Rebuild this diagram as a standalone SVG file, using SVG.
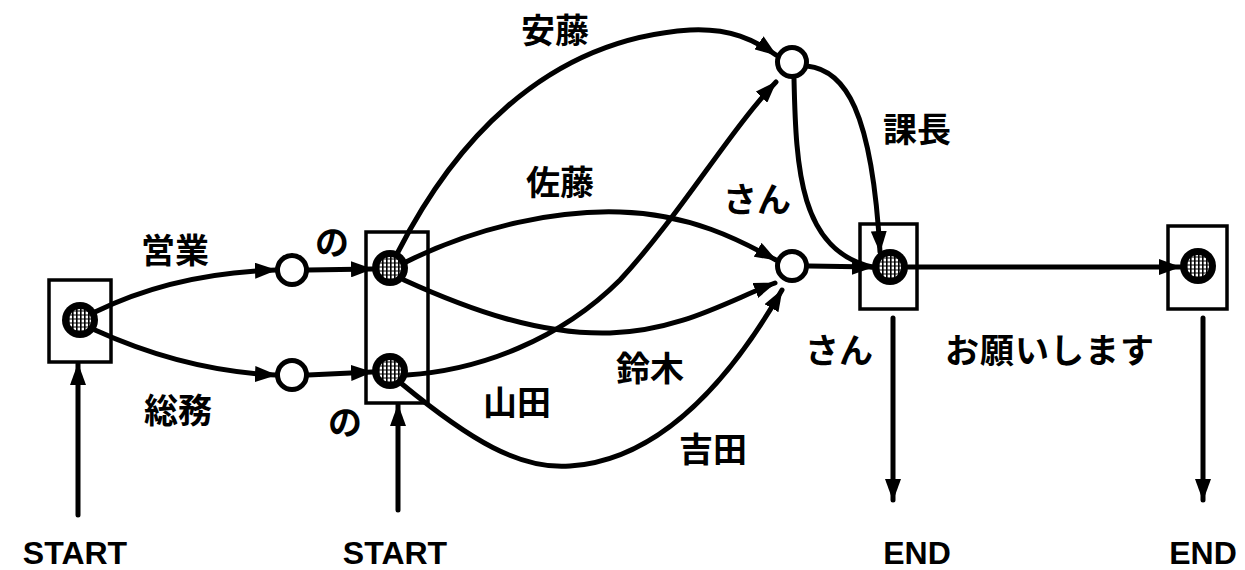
<svg xmlns="http://www.w3.org/2000/svg" width="1245" height="570" viewBox="0 0 1245 570">
<style>
.box{fill:none;stroke:#000;stroke-width:3.5}
.open{fill:#fff;stroke:#000;stroke-width:5}
.edge{fill:none;stroke:#000;stroke-width:5;stroke-linecap:round}
.arr{marker-end:url(#ah)}
.lbl{font-family:"Noto Sans CJK JP","Noto Sans CJK SC",sans-serif;font-weight:bold;font-size:34px;fill:#000;text-anchor:middle;dominant-baseline:central}
.term{font-family:"Liberation Sans",Arial,sans-serif;font-weight:bold;font-size:32px;fill:#000;text-anchor:middle}
</style>
<defs>
<marker id="ah" viewBox="0 0 22 16" refX="21" refY="8" markerWidth="22" markerHeight="16" markerUnits="userSpaceOnUse" orient="auto">
<path d="M0,0 L22,8 L0,16 z" fill="#000"/>
</marker>
<pattern id="hatch" patternUnits="userSpaceOnUse" width="4" height="4">
<rect width="4" height="4" fill="#fff"/>
<rect x="0" y="0" width="1.6" height="4" fill="#000"/>
<rect x="0" y="2.5" width="4" height="1" fill="#000"/>
</pattern>
<symbol id="state" overflow="visible">
<circle cx="0" cy="0" r="18" fill="#000"/>
<circle cx="0" cy="0" r="11" fill="url(#hatch)"/>
</symbol>
</defs>

<g id="connectors">
<path class="edge arr" d="M95 312 C150 285 210 272 276 270"/>
<path class="edge arr" d="M95 330 C150 355 210 372 276 375"/>
<path class="edge arr" d="M308 270 L372 269"/>
<path class="edge arr" d="M308 375 L372 372"/>
<path class="edge arr" d="M398 252 C450 150 540 40 690 30 C730 28 755 40 776 55"/>
<path class="edge arr" d="M406 262 C480 225 560 210 620 212 C690 214 740 240 776 260"/>
<path class="edge arr" d="M404 280 C470 310 540 335 610 333 C680 331 730 300 775 283"/>
<path class="edge arr" d="M407 375 C480 370 560 340 620 280 C680 215 730 130 776 82"/>
<path class="edge arr" d="M402 384 C470 440 520 470 570 466 C660 460 730 380 782 290"/>
<path class="edge" d="M794 79 C796 170 800 250 872 267"/>
<path class="edge arr" d="M807 66 C845 70 872 110 880 252"/>
<path class="edge arr" d="M809 266 L873 267"/>
<path class="edge arr" d="M908 267 L1180 267"/>
<path class="edge arr" d="M78 515 L78 364"/>
<path class="edge arr" d="M398 510 L398 405"/>
<path class="edge arr" d="M893 318 L893 500"/>
<path class="edge arr" d="M1203 318 L1203 500"/>
</g>

<g id="node-start1">
<rect class="box" x="49" y="280" width="62" height="82"/>
<use href="#state" x="80" y="320"/>
</g>
<g id="node-eigyo">
<circle class="open" cx="292" cy="270" r="14.5"/>
</g>
<g id="node-somu">
<circle class="open" cx="292" cy="375" r="14.5"/>
</g>
<g id="node-start2">
<rect class="box" x="366" y="232" width="62" height="171"/>
<use href="#state" x="390" y="268"/>
<use href="#state" x="390" y="371"/>
</g>
<g id="node-ando">
<circle class="open" cx="792" cy="62" r="14.5"/>
</g>
<g id="node-san">
<circle class="open" cx="792" cy="266" r="14.5"/>
</g>
<g id="node-end1">
<rect class="box" x="860" y="224" width="57" height="85"/>
<use href="#state" x="890" y="267"/>
</g>
<g id="node-end2">
<rect class="box" x="1168" y="226" width="59" height="83"/>
<use href="#state" x="1198" y="266"/>
</g>

<g id="labels">
<text class="lbl" x="175" y="248">営業</text>
<text class="lbl" x="178" y="408">総務</text>
<text class="lbl" x="332" y="240">の</text>
<text class="lbl" x="345" y="420">の</text>
<text class="lbl" x="555" y="28">安藤</text>
<text class="lbl" x="560" y="180">佐藤</text>
<text class="lbl" x="757" y="197">さん</text>
<text class="lbl" x="917" y="127">課長</text>
<text class="lbl" x="517" y="400">山田</text>
<text class="lbl" x="650" y="366">鈴木</text>
<text class="lbl" x="713" y="447">吉田</text>
<text class="lbl" x="839" y="348">さん</text>
<text class="lbl" x="1050" y="348" letter-spacing="1">お願いします</text>
<text class="term" x="75" y="564">START</text>
<text class="term" x="395" y="564">START</text>
<text class="term" x="917" y="564">END</text>
<text class="term" x="1203" y="564">END</text>
</g>
</svg>
